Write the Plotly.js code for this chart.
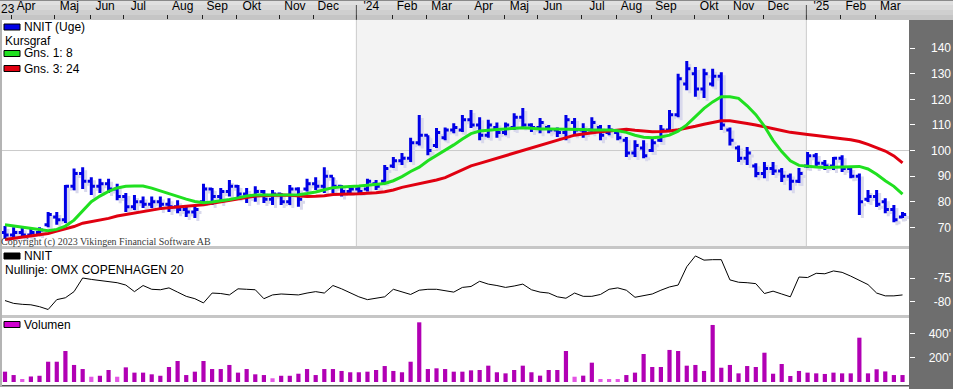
<!DOCTYPE html>
<html><head><meta charset="utf-8">
<script src="https://cdn.plot.ly/plotly-3.0.1.min.js"></script>
<style>html,body{margin:0;padding:0;background:#fff;}#chart{width:957px;height:389px;}</style>
</head><body><div id="chart"></div>
<script>
// ---------- DATA ----------
const weeks = [
'2023-03-27','2023-04-03','2023-04-10','2023-04-17','2023-04-24','2023-05-01','2023-05-08','2023-05-15','2023-05-22','2023-05-29',
'2023-06-05','2023-06-12','2023-06-19','2023-06-26','2023-07-03','2023-07-10','2023-07-17','2023-07-24','2023-07-31','2023-08-07',
'2023-08-14','2023-08-21','2023-08-28','2023-09-04','2023-09-11','2023-09-18','2023-09-25','2023-10-02','2023-10-09','2023-10-16',
'2023-10-23','2023-10-30','2023-11-06','2023-11-13','2023-11-20','2023-11-27','2023-12-04','2023-12-11','2023-12-18','2023-12-25',
'2024-01-01','2024-01-08','2024-01-15','2024-01-22','2024-01-29','2024-02-05','2024-02-12','2024-02-19','2024-02-26','2024-03-04',
'2024-03-11','2024-03-18','2024-03-25','2024-04-01','2024-04-08','2024-04-15','2024-04-22','2024-04-29','2024-05-06','2024-05-13',
'2024-05-20','2024-05-27','2024-06-03','2024-06-10','2024-06-17','2024-06-24','2024-07-01','2024-07-08','2024-07-15','2024-07-22',
'2024-07-29','2024-08-05','2024-08-12','2024-08-19','2024-08-26','2024-09-02','2024-09-09','2024-09-16','2024-09-23','2024-09-30',
'2024-10-07','2024-10-14','2024-10-21','2024-10-28','2024-11-04','2024-11-11','2024-11-18','2024-11-25','2024-12-02','2024-12-09',
'2024-12-16','2024-12-23','2024-12-30','2025-01-06','2025-01-13','2025-01-20','2025-01-27','2025-02-03','2025-02-10','2025-02-17',
'2025-02-24','2025-03-03','2025-03-10','2025-03-17','2025-03-24'];

const openP = [68,67,68,67,68,71,74,73,86,91, 88,86,87,85,82,78,80,79,80,79, 78,77,76,80,85,82,84,86,83,82,
 84,81,83,80,85,85,87,86,90,86, 84,85,85,87,88,94,96,97,103,106, 102,105,108,108,112,110,106,109,107,109,
 113,110,109,109,108,107,111,108,108,109, 107,107,104,99,101,100,104,108,114,126, 130,124,126,129,108,101,97,94,91,93,
 92,90,88,94,98,95,94,97,93,90, 81,82,80,77,74];
const highP = [70.5,70,70,69.5,70,76,76,86.5,93,93.5, 89.6,89,89,87,83.4,82.6,82,82,82,81.4, 80.6,78.7,78.7,87,85.4,85.4,88.5,86.5,85.4,86,
 84.6,84.6,83.4,86.5,85.7,89,89.6,93.5,89.6,86.5, 86.5,86.5,89,88.5,94.3,97.5,99,105,113.9,106, 108.8,109,110.7,113.9,115.8,113,112,111,111,114.6,
 116.6,110.7,112.7,110,109,113.9,112.7,110.7,113,110, 110,108,105.3,104,104,105,110,115.8,130,135, 132.6,132,132,130.6,109,102,101.4,95,95.5,95.5,
 93.2,91,93.2,99.4,99,96.3,97.5,98.2,93.6,91, 84.6,84.6,81.4,78.7,76];
const lowP = [65.5,66,66,66.5,67,70,71,71.7,84.5,85, 82.6,83.4,83.4,80.6,76,76.8,77.5,77.5,76.8,76, 75.5,74,73.6,79.5,78.7,79.5,82,81.4,79.5,80,
 79.5,78.7,78.7,78.7,78,84,84.6,83.4,83.4,82, 83.4,83.4,84,84.6,87.3,93.2,94.3,95.5,102,98.2, 101,104,106.8,107.2,108.8,104,105,105,106,108,
 109,107.2,106.8,106.8,105.3,104,106,105,106.8,104, 106,104,97.5,97.5,97,99.4,103.3,107.2,113,123.6, 121,120.5,125,108,102,95.5,94.3,89.6,89.2,90.4,
 87.7,84.5,87.3,93.2,93.2,92.4,92.4,91.6,89.2,74.8, 79.9,77.9,75.5,72,73.6];
const closeP = [67,68,67,68,69,75,73,86,91,88, 86,87,85,82,78,80,79,80,79,78, 77,76,77,85,82,84,86,83,82,84,
 81,83,80,85,81,87,86,90,86,84, 85,84,88,86,93,96,97,103,106,100, 107,108,109,112,110,106,110,107,110,113,
 110,109,111,108,107,112,108,107,111,106, 108,105,99,102,98,103,108,114,128,132, 124,130,129,110,104,97,99,91,93,92,
 90,88,91,98,95,94,97,93,90,80, 82,79,77,73,75];

const gns8 = [71,70.5,70.1,69.5,69,68.7,69.2,70.5,72.8,76.3, 80,82.2,84,85.4,86,86.1,86.1,85.3,84.2,83,
 82.1,81,80.1,79.6,79.9,80.3,80.9,81.5,82.2,82.6, 82.6,82.6,82.6,82.6,82.7,83.2,83.8,84.7,85.5,85.8,
 85.9,86.1,86.4,86.7,87.1,88.2,89.8,91.8,93.5,96, 98,100,102.2,104.5,106.6,107.6,108,108.2,108.4,108.6,
 108.9,108.7,108.4,108.4,108.4,108.4,108.4,108.2,108,108, 108,107.7,107.1,106,105.2,105,105.3,106,107.6,110,
 113.2,116.5,119,121,121,120.4,117.5,114,109.5,104, 99.6,96,94.2,93.8,93.6,93.4,93.5,93.7,93.9,93.8,
 92.8,90.7,88.2,86,83];
const gns24 = [65.2,65.7,66.2,66.6,67,67.6,68.5,69.4,70.3,71.6, 72.2,72.7,73.5,74.4,75,75.6,76,76.7,77.3,77.6,
 77.9,78.2,78.5,78.8,79.4,79.9,80.4,81,81.6,82.2, 82.4,82.6,82.6,82.5,82.2,82,82.1,82.3,82.8,83,
 83,83.1,83.2,83.5,83.9,84.6,85.6,86.3,87.1,87.9, 88.5,89.4,91,92.6,94,95,96,97,98,99,
 100.1,101.2,102,103,104,105.1,106,106.5,107,107.3, 107.6,108,108.3,107.9,107.5,107.3,107.4,107.6,108.1,108.7,
 109.5,110.3,111,111.6,111.6,111.2,110.6,110,109.2,108.5, 107.8,107.1,106.6,106.3,105.9,105.4,105,104.6,104.2,103.5,
 102.4,101.1,99.8,97.9,95.2];

const relOmx = [-79.8,-80.4,-80.6,-80.7,-81.1,-81.7,-79.6,-79.2,-77.9,-75, -75.3,-75.5,-75.7,-76,-76.5,-77.9,-76.6,-77.4,-77.5,-77.1,
 -78,-78.9,-79.4,-80.3,-78.2,-78.3,-78.6,-77.3,-77.4,-77.5, -79.4,-78.6,-78.4,-78.5,-78.6,-78.2,-77.9,-78.2,-76.6,-77.3,
 -78.2,-79,-79.6,-79.3,-79,-77.4,-78,-78.5,-77.6,-77.4, -77.4,-77.7,-78,-77,-76.8,-75.7,-76.3,-76.6,-77,-76.7,
 -76.3,-77.5,-78,-78.2,-79,-79.3,-78.2,-78.9,-78.9,-78.5, -77.4,-77.1,-77.6,-79.1,-78.8,-78.4,-77.6,-76.9,-76.5,-72.6,
 -70.3,-71.2,-71.1,-71.1,-75.4,-75.9,-76,-76.2,-78.3,-77.8, -78.4,-79,-74.8,-74.9,-74,-74.1,-73.5,-73.8,-74.6,-75.5,
 -76.4,-78.2,-78.8,-78.8,-78.6];

const volumen = [86,58,25,46,52,169,169,258,142,108, 44,52,100,44,122,78,78,64,52,125,
 175,58,86,175,108,108,142,78,108,64, 58,31,52,52,69,108,58,108,108,92,
 81,81,86,100,133,92,81,169,497,108, 114,108,86,86,97,100,136,81,72,100,
 136,81,53,100,100,258,44,53,161,25, 25,25,58,78,233,125,125,267,258,136,
 142,92,475,119,142,72,133,125,244,69, 150,50,92,78,72,67,78,72,72,369,
 72,106,88,58,58];

const monthTicks = ['2023-04-01','2023-05-06','2023-06-04','2023-07-01','2023-08-06','2023-09-03','2023-10-01','2023-11-05','2023-12-02',
 '2024-01-06','2024-02-04','2024-03-03','2024-04-06','2024-05-05','2024-06-01','2024-07-07','2024-08-04','2024-09-01','2024-10-06',
 '2024-11-03','2024-12-01','2025-01-05','2025-02-02','2025-03-02'];
const monthLabels = ['Apr','Maj','Jun','Jul','Aug','Sep','Okt','Nov','Dec',"'24",'Feb','Mar','Apr','Maj','Jun','Jul','Aug','Sep','Okt',
 'Nov','Dec',"'25",'Feb','Mar'];
const yearTicks = ['2024-01-06','2025-01-05'];
const priceTicks = [70,80,90,100,110,120,130,140];
const relTicks = [-80,-75], relLabels = ['-80','-75'];
const volTicks = [200,400], volLabels = ["200'","400'"];

// ---------- LAYOUT GEOMETRY ----------
const W=957, H=389, DAY=86400000;
const PX = x => x/W, PY = y => 1 - y/H;
const XR = 909;
const priceTop=20, priceBot=246, relTop=249, relBot=315, volTop=318, volBot=382;
const pxPerDay = 8.63/7;
const t0 = Date.parse('2023-03-27T00:00:00Z');
const xStart = t0 - 5/pxPerDay*DAY, xEnd = t0 + (XR-5)/pxPerDay*DAY;
const iso = ms => new Date(ms).toISOString().replace('T',' ').replace('Z','');
const pLo = 62.7, pHi = 151.0, ppu = (priceBot-priceTop)/(pHi-pLo);
const rLo = -82.87, rHi = -68.83, vLo = 0, vHi = 533;
const shX = 3, shY = 3;
const shDays = shX/pxPerDay*DAY;

const BLUE = '#0000e6';
const traces = [
 {type:'ohlc', x:weeks, open:openP, high:highP, low:lowP, close:closeP, xaxis:'x', yaxis:'y',
  increasing:{line:{color:'#d9d9ec', width:3}}, decreasing:{line:{color:'#d9d9ec', width:3}}, tickwidth:0.42, hoverinfo:'skip'},
 {type:'ohlc', x:weeks, open:openP, high:highP, low:lowP, close:closeP, xaxis:'x2', yaxis:'y2',
  increasing:{line:{color:BLUE, width:3}}, decreasing:{line:{color:BLUE, width:3}}, tickwidth:0.42, hoverinfo:'skip'},
 {type:'scatter', mode:'lines', x:weeks, y:gns24, xaxis:'x2', yaxis:'y5', line:{color:'#e00010', width:3}, hoverinfo:'skip'},
 {type:'scatter', mode:'lines', x:weeks, y:gns8, xaxis:'x2', yaxis:'y5', line:{color:'#20e020', width:3}, hoverinfo:'skip'},
 {type:'scatter', mode:'lines', x:weeks, y:relOmx, xaxis:'x3', yaxis:'y3', line:{color:'#000', width:1}, hoverinfo:'skip'},
 {type:'scatter', mode:'lines', x:[], y:[], xaxis:'x3', yaxis:'y6', hoverinfo:'skip'},
 {type:'bar', x:weeks, y:volumen, xaxis:'x4', yaxis:'y4', width:3.4*DAY,
  marker:{color:volumen.map(v => v < 45 ? '#e455e4' : '#b100b4'), line:{width:0}}, hoverinfo:'skip'},
 {type:'scatter', mode:'lines', x:[], y:[], xaxis:'x4', yaxis:'y7', hoverinfo:'skip'}
];

const hidX = (anchor, shift) => ({domain:[0,PX(XR)], type:'date', anchor:anchor, range:[iso(xStart-shift), iso(xEnd-shift)],
  visible:false, fixedrange:true, rangeslider:{visible:false}});
const tickAx = (dom, rng, vals, anchor) => ({domain:dom, anchor:anchor, side:'right', range:rng, tickmode:'array', tickvals:vals,
  ticks:'outside', ticklen:5, tickwidth:1, tickcolor:'#ffffff', showticklabels:false, showgrid:false, zeroline:false, showline:false, fixedrange:true});
const lblAx = (over, rng, vals, txt) => ({overlaying:over, anchor:'free', position:PX(951), side:'left', range:rng, tickmode:'array',
  tickvals:vals, ticktext:txt, ticks:'', showgrid:false, zeroline:false, showline:false, fixedrange:true,
  tickfont:{family:'Liberation Sans, Arial, sans-serif', size:12, color:'#ffffff'}});

const priceDom = [PY(priceBot), PY(priceTop)];
const shapes = [];
const rect = (x0,y0,x1,y1,fill,line,layer) => shapes.push({type:'rect', xref:'paper', yref:'paper', x0:PX(x0), x1:PX(x1), y0:PY(y1), y1:PY(y0),
  fillcolor:fill, line:line?{color:line,width:1}:{width:0}, layer:layer||'above'});
// top strip (gradient approximation), drawn below axes
[['#e0e0e0',0,5],['#d8d8d8',5,10],['#cfcfcf',10,15],['#c5c5c5',15,20]].forEach(b => rect(0,b[1],953,b[2],b[0],null,'below'));
shapes.push({type:'line', xref:'paper', yref:'paper', x0:0, x1:PX(953), y0:PY(0.5), y1:PY(0.5), line:{color:'#8a8a8a', width:1}, layer:'below'});
// dark right panel
rect(XR,20,953,389,'#6e6e6e',null,'below');
// year shading and lines in price panel
shapes.push({type:'rect', xref:'x2', yref:'paper', x0:yearTicks[0], x1:yearTicks[1], y0:priceDom[0], y1:priceDom[1], fillcolor:'#f3f3f3', line:{width:0}, layer:'below'});
yearTicks.forEach(d => {
  shapes.push({type:'line', xref:'x2', yref:'paper', x0:d, x1:d, y0:priceDom[0], y1:priceDom[1], line:{color:'#cbcbcb', width:1}, layer:'below'});
  shapes.push({type:'line', xref:'x2', yref:'paper', x0:d, x1:d, y0:PY(20), y1:PY(5), line:{color:'#4a4a4a', width:1}});
});
shapes.push({type:'line', xref:'paper', yref:'y2', x0:0, x1:PX(XR), y0:100, y1:100, line:{color:'#cbcbcb', width:1}, layer:'below'});
// separators and borders
rect(0,246,XR,249,'#c6c6c6',null,'below');
rect(0,315,XR,318,'#c6c6c6',null,'below');
rect(0,385,XR,386.5,'#555555',null,'below');
shapes.push({type:'line', xref:'paper', yref:'paper', x0:PX(1), x1:PX(1), y0:PY(386), y1:PY(20), line:{color:'#b4b4b4', width:2}});
// legend swatches
rect(4,24,20,30,BLUE,'#000');
rect(4,50.5,20,56.5,'#20e020','#000');
rect(4,65.5,20,71.5,'#e00010','#000');
rect(4,253,20,259,'#000000','#000');
rect(4,321.5,20,327.5,'#d000d0','#000');

const FONT = 'Liberation Sans, Arial, sans-serif';
const ann = (x,y,text,opts) => Object.assign({xref:'paper', yref:'paper', x:PX(x), y:PY(y), text:text, showarrow:false,
  xanchor:'left', yanchor:'middle', font:{family:FONT, size:12, color:'#000'}}, opts||{});
const annotations = [
  ann(22,27.5,'NNIT (Uge)'),
  ann(3,41,'Kursgraf'),
  ann(22,53.5,'Gns. 1: 8'),
  ann(22,68.5,'Gns. 3: 24'),
  ann(22,256,'NNIT'),
  ann(3,269.5,'Nullinje: OMX COPENHAGEN 20'),
  ann(22,324.5,'Volumen'),
  ann(-1,241.5,'Copyright (c) 2023 Vikingen Financial Software AB', {font:{family:'Liberation Serif, Times New Roman, serif', size:10, color:'#3a3a3a'}}),
  ann(-1,8.5,'23', {font:{family:FONT, size:12, color:'#000'}})
];

const layout = {
  width:W, height:H, margin:{l:0,r:0,t:0,b:0,pad:0}, paper_bgcolor:'#ffffff', plot_bgcolor:'#ffffff',
  showlegend:false, hovermode:false, dragmode:false, font:{family:FONT, size:12, color:'#000'},
  xaxis: hidX('y', shDays),
  yaxis: {domain:priceDom, anchor:'x', range:[pLo+shY/ppu, pHi+shY/ppu], visible:false, fixedrange:true},
  xaxis2: {overlaying:'x', anchor:'y2', side:'top', type:'date', range:[iso(xStart), iso(xEnd)], tickmode:'array',
    tickvals:monthTicks, ticktext:monthLabels, ticks:'outside', ticklen:4, tickwidth:1, tickcolor:'#222',
    ticklabelshift:15, showgrid:false, zeroline:false, showline:false, fixedrange:true, rangeslider:{visible:false},
    tickfont:{family:FONT, size:12, color:'#000'}},
  yaxis2: Object.assign(tickAx(priceDom,[pLo,pHi],priceTicks,'x2'), {overlaying:'y'}),
  yaxis5: lblAx('y',[pLo,pHi],priceTicks,priceTicks.map(String)),
  xaxis3: hidX('y3', 0),
  yaxis3: tickAx([PY(relBot),PY(relTop)],[rLo,rHi],relTicks,'x3'),
  yaxis6: lblAx('y3',[rLo,rHi],relTicks,relLabels),
  xaxis4: hidX('y4', 0),
  yaxis4: tickAx([PY(volBot),PY(volTop)],[vLo,vHi],volTicks,'x4'),
  yaxis7: lblAx('y4',[vLo,vHi],volTicks,volLabels),
  shapes: shapes, annotations: annotations
};
Plotly.newPlot('chart', traces, layout, {staticPlot:true, displayModeBar:false});
</script></body></html>
